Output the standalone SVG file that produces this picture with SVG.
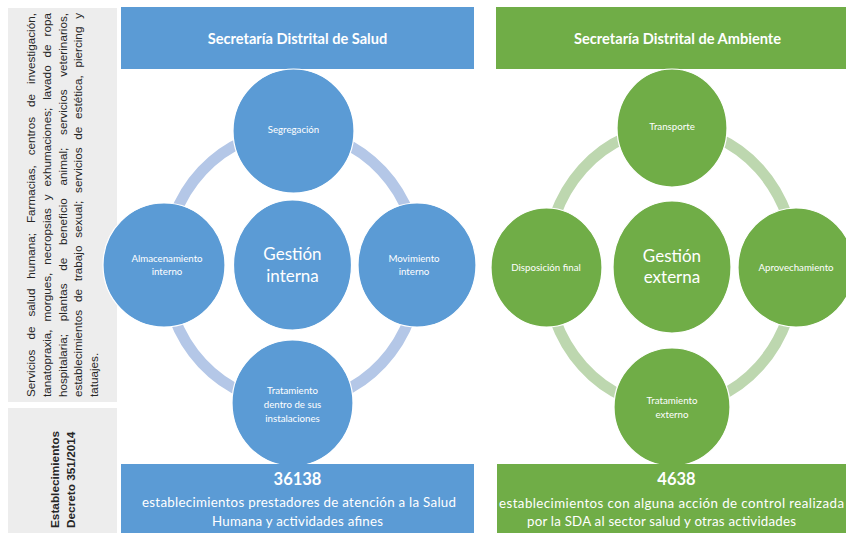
<svg xmlns="http://www.w3.org/2000/svg" width="846" height="533" viewBox="0 0 846 533">
<style>
.panel{fill:#EDEDED}
.blue{fill:#5B9BD5}
.green{fill:#70AD47}
.cb{fill:#5B9BD5;stroke:#FFFFFF;stroke-width:1.2}
.cg{fill:#70AD47;stroke:#FFFFFF;stroke-width:1.2}
.ring{fill:none;stroke-width:11}
.side{font-family:"Liberation Sans",Arial,sans-serif;font-size:11.7px;fill:#262626}
.sideb{font-family:"Liberation Sans",Arial,sans-serif;font-size:11.8px;font-weight:bold;fill:#262626}
.hd{font-family:Lato,"Open Sans",sans-serif;font-size:14.6px;font-weight:bold;fill:#FFFFFF;text-anchor:middle}
.lb{font-family:Lato,"Open Sans",sans-serif;font-size:9.7px;fill:#FFFFFF;text-anchor:middle}
.big{font-family:Lato,"Open Sans",sans-serif;font-size:17px;fill:#FFFFFF;text-anchor:middle}
.num{font-family:Lato,"Open Sans",sans-serif;font-size:16.5px;font-weight:bold;fill:#FFFFFF;text-anchor:middle}
.desc{font-family:Lato,"Open Sans",sans-serif;font-size:13.3px;fill:#FFFFFF;text-anchor:middle}
</style>
<rect width="846" height="533" fill="#FFFFFF"/>

<g id="side-services">
<rect class="panel" x="8" y="8" width="109" height="394"/>
<text class="side" transform="translate(35,397) rotate(-90)" word-spacing="6.7" textLength="384" lengthAdjust="spacing">Servicios de salud humana; Farmacias, centros de investigación,</text>
<text class="side" transform="translate(50.8,397) rotate(-90)" word-spacing="4.7" textLength="384" lengthAdjust="spacing">tanatopraxia, morgues, necropsias y exhumaciones; lavado de ropa</text>
<text class="side" transform="translate(66.6,397) rotate(-90)" word-spacing="9.5" textLength="384" lengthAdjust="spacing">hospitalaria; plantas de beneficio animal; servicios veterinarios,</text>
<text class="side" transform="translate(82.4,397) rotate(-90)" word-spacing="4.5" textLength="384" lengthAdjust="spacing">establecimientos de trabajo sexual; servicios de estética, piercing y</text>
<text class="side" transform="translate(98.2,397) rotate(-90)">tatuajes.</text>
</g>

<g id="side-establecimientos">
<rect class="panel" x="8" y="408" width="109" height="125"/>
<text class="sideb" transform="translate(59,528) rotate(-90)">Establecimientos</text>
<text class="sideb" transform="translate(75,528) rotate(-90)">Decreto 351/2014</text>
</g>

<g id="connectors">
<ellipse class="ring" cx="292" cy="267" rx="127" ry="136" stroke="#B4C7E7"/>
<ellipse class="ring" cx="671" cy="267.5" rx="125" ry="139.5" stroke="#BDD7AF"/>
</g>

<g id="sds-header">
<rect class="blue" x="121" y="7" width="353" height="62"/>
<text class="hd" x="297.5" y="44">Secretaría Distrital de Salud</text>
</g>

<g id="sda-header">
<rect class="green" x="496" y="7" width="350" height="62"/>
<text class="hd" x="677.5" y="44">Secretaría Distrital de Ambiente</text>
</g>

<g id="segregacion">
<ellipse class="cb" cx="293.5" cy="131" rx="60.5" ry="62"/>
<text class="lb" x="293.5" y="133">Segregación</text>
</g>
<g id="almacenamiento">
<ellipse class="cb" cx="164" cy="265" rx="61" ry="62"/>
<text class="lb" x="167" y="261.5">Almacenamiento</text>
<text class="lb" x="167" y="274.5">interno</text>
</g>
<g id="gestion-interna">
<ellipse class="cb" cx="292.5" cy="265" rx="59" ry="65"/>
<text class="big" x="292.5" y="260">Gestión</text>
<text class="big" x="292.5" y="282">interna</text>
</g>
<g id="movimiento">
<ellipse class="cb" cx="417" cy="265" rx="59" ry="62"/>
<text class="lb" x="414" y="262">Movimiento</text>
<text class="lb" x="414" y="274.5">interno</text>
</g>
<g id="tratamiento-interno">
<ellipse class="cb" cx="292.5" cy="403" rx="60.5" ry="63"/>
<text class="lb" x="292.5" y="394">Tratamiento</text>
<text class="lb" x="292.5" y="408">dentro de sus</text>
<text class="lb" x="292.5" y="422">instalaciones</text>
</g>

<g id="transporte">
<ellipse class="cg" cx="672" cy="128" rx="55" ry="59"/>
<text class="lb" x="672" y="130">Transporte</text>
</g>
<g id="disposicion">
<ellipse class="cg" cx="546.5" cy="267.5" rx="55.5" ry="59.5"/>
<text class="lb" x="546" y="271">Disposición final</text>
</g>
<g id="gestion-externa">
<ellipse class="cg" cx="672" cy="267" rx="59" ry="66"/>
<text class="big" x="672" y="262">Gestión</text>
<text class="big" x="672" y="283">externa</text>
</g>
<g id="aprovechamiento">
<ellipse class="cg" cx="796" cy="267.5" rx="58" ry="59.5"/>
<text class="lb" x="796" y="271">Aprovechamiento</text>
</g>
<g id="tratamiento-externo">
<ellipse class="cg" cx="672" cy="407" rx="58" ry="59"/>
<text class="lb" x="672" y="404">Tratamiento</text>
<text class="lb" x="672" y="417.5">externo</text>
</g>

<g id="sds-count">
<rect class="blue" x="121" y="464" width="353" height="69"/>
<text class="num" x="297.5" y="485">36138</text>
<text class="desc" x="299" y="506.5" textLength="314" lengthAdjust="spacing">establecimientos prestadores de atención a la Salud</text>
<text class="desc" x="297.5" y="525.5" textLength="171" lengthAdjust="spacing">Humana y actividades afines</text>
</g>

<g id="sda-count">
<rect class="green" x="497" y="464" width="349" height="69"/>
<text class="num" x="676.5" y="485">4638</text>
<text class="desc" x="671.5" y="507.5" textLength="345" lengthAdjust="spacing">establecimientos con alguna acción de control realizada</text>
<text class="desc" x="661.5" y="526" textLength="269" lengthAdjust="spacing">por la SDA al sector salud y otras actividades</text>
</g>
</svg>
